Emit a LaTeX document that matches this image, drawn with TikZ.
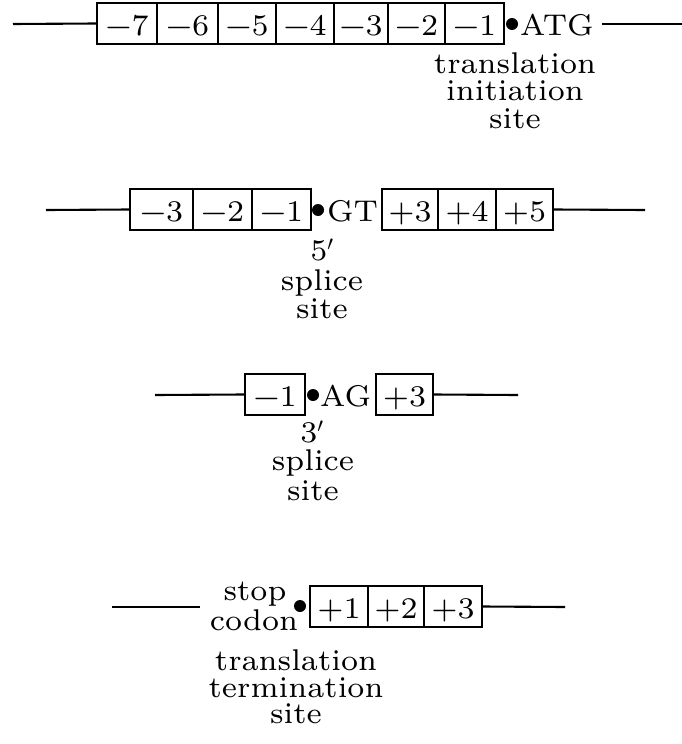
\documentclass[tikz,border=0pt]{standalone}
\font\dna="[lmroman7-regular]" at 30pt
\tikzset{
  cell/.style={draw, line width=2.1pt, inner sep=0pt, minimum height=41pt, text height=23pt, text depth=0pt, font=\dna},
  wire/.style={line width=2.1pt},
  sitedot/.style={circle, fill, inner sep=0pt, minimum size=12pt},
  lbl/.style={font=\dna, inner sep=0pt, anchor=base},
  plbl/.style={font={\fontsize{30}{36}\selectfont\dna}, inner sep=0pt, anchor=base},
}
\begin{document}
\begin{tikzpicture}[x=1pt, y=-1pt]
\useasboundingbox (0,0) rectangle (682,744);
% ---------- row 1: translation initiation ----------
\coordinate (r1l) at (13,24);
\node[cell, minimum width=60pt] (a7) at (127,23.5) {−7};
\node[cell, minimum width=61pt] (a6) at (187.5,23.5) {−6};
\node[cell, minimum width=58pt] (a5) at (247,23.5) {−5};
\node[cell, minimum width=58pt] (a4) at (305,23.5) {−4};
\node[cell, minimum width=54pt] (a3) at (361,23.5) {−3};
\node[cell, minimum width=57pt] (a2) at (416.5,23.5) {−2};
\node[cell, minimum width=59pt] (a1) at (474.5,23.5) {−1};
\node[sitedot] (d1) at (512,24) {};
\node[lbl, anchor=base west] (atg) at (520,35) {ATG};
\coordinate (r1r) at (682,24);
\draw[wire] (r1l) -- (a7.west);
\draw[wire, shorten <=8pt] (atg.east |- d1) -- (r1r);
\node[lbl] (t1a) at (515,73) {translation};
\node[lbl] (t1b) at (515,100) {initiation};
\node[lbl] (t1c) at (515,128) {site};
% ---------- row 2: 5' splice site ----------
\coordinate (r2l) at (46,210);
\node[cell, minimum width=63pt] (b3) at (161.5,209.5) {−3};
\node[cell, minimum width=59pt] (b2) at (222.5,209.5) {−2};
\node[cell, minimum width=59pt] (b1) at (281.5,209.5) {−1};
\node[sitedot] (d2) at (318,210) {};
\node[lbl, anchor=base west] (gt) at (327,221) {GT};
\node[cell, minimum width=56pt] (c3) at (410,209.5) {+3};
\node[cell, minimum width=58pt] (c4) at (467,209.5) {+4};
\node[cell, minimum width=57pt] (c5) at (524.5,209.5) {+5};
\coordinate (r2r) at (645,210);
\draw[wire] (r2l) -- (b3.west);
\draw[wire] (c5.east) -- (r2r);
\node[plbl] (t2a) at (322,260) {5$'$};
\node[lbl] (t2b) at (322,290) {splice};
\node[lbl] (t2c) at (322,318) {site};
% ---------- row 3: 3' splice site ----------
\coordinate (r3l) at (155,395);
\node[cell, minimum width=60pt] (e1) at (275,394.5) {−1};
\node[sitedot] (d3) at (313,395) {};
\node[lbl, anchor=base west] (ag) at (320,406) {AG};
\node[cell, minimum width=57pt] (f3) at (404.5,394.5) {+3};
\coordinate (r3r) at (518,395);
\draw[wire] (r3l) -- (e1.west);
\draw[wire] (f3.east) -- (r3r);
\node[plbl] (t3a) at (312,442) {3$'$};
\node[lbl] (t3b) at (313,470) {splice};
\node[lbl] (t3c) at (313,500) {site};
% ---------- row 4: translation termination ----------
\coordinate (r4l) at (112,607);
\coordinate (r4m) at (200,607);
\draw[wire] (r4l) -- (r4m);
\node[lbl] (stop) at (255,600) {stop};
\node[lbl] (codon) at (254,630) {codon};
\node[sitedot] (d4) at (300,606) {};
\node[cell, minimum width=58pt] (g1) at (339,606.5) {+1};
\node[cell, minimum width=56pt] (g2) at (396,606.5) {+2};
\node[cell, minimum width=58pt] (g3) at (453,606.5) {+3};
\coordinate (r4r) at (565,607);
\draw[wire] (g3.east) -- (r4r);
\node[lbl] (t4a) at (296,670) {translation};
\node[lbl] (t4b) at (296,697) {termination};
\node[lbl] (t4c) at (296,723) {site};
\end{tikzpicture}
\end{document}
